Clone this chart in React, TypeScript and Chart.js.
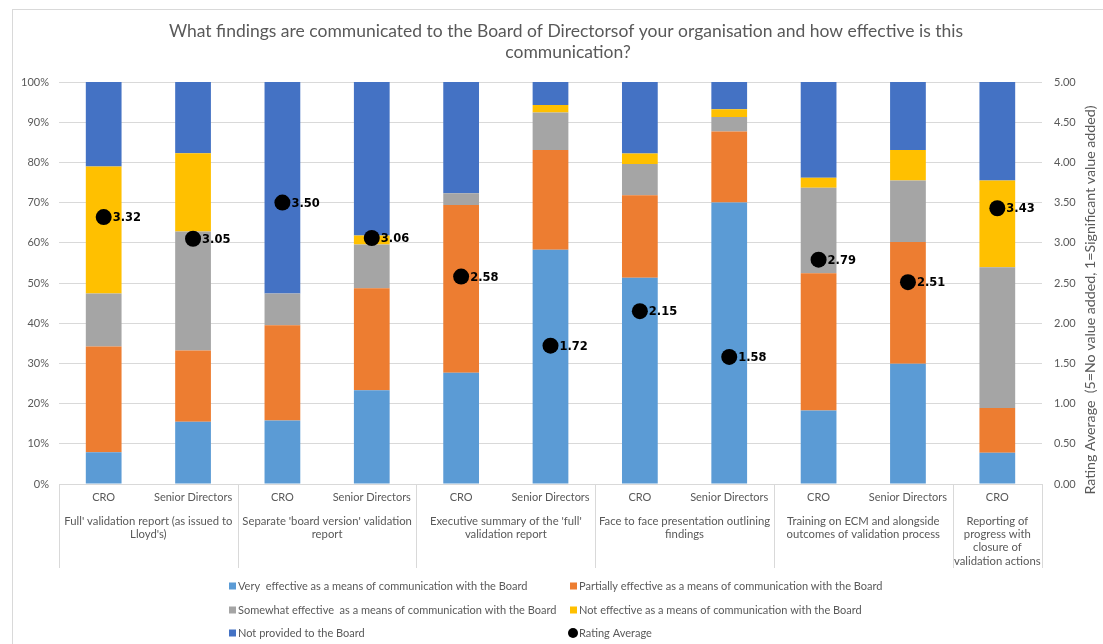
import { useEffect, useRef } from "react";
import { Chart, registerables } from "chart.js";

Chart.register(...registerables);

const titleLines = [
  "What findings are communicated to the Board of Directorsof your organisation and how effective is this",
  "communication?",
];

const categories = [
  "CRO", "Senior Directors",
  "CRO", "Senior Directors",
  "CRO", "Senior Directors",
  "CRO", "Senior Directors",
  "CRO", "Senior Directors",
  "CRO",
];

const groupLabels: string[][] = [
  ["Full' validation report (as issued to", "Lloyd's)"],
  ["Separate 'board version' validation", "report"],
  ["Executive summary of the 'full'", "validation report"],
  ["Face to face presentation outlining", "findings"],
  ["Training on ECM and alongside", "outcomes of validation process"],
  ["Reporting of", "progress with", "closure of", "validation actions"],
];
const groupSizes = [2, 2, 2, 2, 2, 1];

const veryEffective = [7.9, 15.5, 15.8, 23.3, 27.7, 58.3, 51.3, 70.0, 18.3, 29.9, 7.8];
const partiallyEffective = [26.3, 17.7, 23.7, 25.4, 41.7, 24.8, 20.5, 17.7, 34.1, 30.3, 11.1];
const somewhatEffective = [13.2, 29.6, 7.9, 10.9, 2.9, 9.3, 7.8, 3.6, 21.3, 15.3, 35.0];
const notEffective = [31.6, 19.5, 0, 2.2, 0, 1.9, 2.6, 1.9, 2.5, 7.6, 21.6];
const notProvided = [21.0, 17.7, 52.6, 38.2, 27.7, 5.7, 17.8, 6.8, 23.8, 16.9, 24.5];
const ratingAverage = [3.32, 3.05, 3.5, 3.06, 2.58, 1.72, 2.15, 1.58, 2.79, 2.51, 3.43];

const seriesLabels = [
  "Very  effective as a means of communication with the Board",
  "Partially effective as a means of communication with the Board",
  "Somewhat effective  as a means of communication with the Board",
  "Not effective as a means of communication with the Board",
  "Not provided to the Board",
  "Rating Average",
];
const seriesColors = ["#5B9BD5", "#ED7D31", "#A5A5A5", "#FFC000", "#4472C4", "#000000"];

const rightAxisTitle = "Rating Average  (5=No value added, 1=Significant value added)";

const TEXT = "#595959";
const GRID = "#D9D9D9";
const FONT = "Lato, 'Open Sans', sans-serif";

const overlayPlugin = {
  id: "overlay",
  beforeDraw(chart: any) {
    const ctx = chart.ctx;
    ctx.save();
    ctx.strokeStyle = GRID;
    ctx.lineWidth = 1;
    ctx.strokeRect(12.5, 9.5, 1120, 660);
    ctx.restore();
  },
  afterDatasetsDraw(chart: any) {
    const ctx = chart.ctx;
    const idx = chart.data.datasets.length - 1;
    const meta = chart.getDatasetMeta(idx);
    ctx.save();
    ctx.font = "bold 11.5px 'DejaVu Sans', sans-serif";
    ctx.fillStyle = "#000";
    ctx.textAlign = "left";
    ctx.textBaseline = "middle";
    meta.data.forEach((pt: any, i: number) => {
      ctx.fillText(ratingAverage[i].toFixed(2), pt.x + 9, pt.y + 1);
    });
    ctx.restore();
  },
  afterDraw(chart: any) {
    const ctx = chart.ctx;
    const area = chart.chartArea;
    const xs = chart.scales.x;
    ctx.save();
    // title
    ctx.fillStyle = TEXT;
    ctx.font = `17.5px ${FONT}`;
    ctx.textAlign = "center";
    ctx.textBaseline = "middle";
    ctx.fillText(titleLines[0], 566, 31);
    ctx.fillText(titleLines[1], 568, 52);

    // group separators and labels
    ctx.strokeStyle = GRID;
    ctx.lineWidth = 1;
    const bounds: number[] = [area.left];
    let k = 0;
    groupSizes.forEach((n) => {
      k += n;
      if (k < categories.length) {
        const a = xs.getPixelForValue(k - 1);
        const b = xs.getPixelForValue(k);
        bounds.push((a + b) / 2);
      } else {
        bounds.push(area.right);
      }
    });
    bounds.forEach((bx) => {
      const x = Math.round(bx) + 0.5;
      ctx.beginPath();
      ctx.moveTo(x, area.bottom);
      ctx.lineTo(x, 568);
      ctx.stroke();
    });
    ctx.font = `11.3px ${FONT}`;
    ctx.fillStyle = TEXT;
    groupLabels.forEach((lines, g) => {
      const cx = (bounds[g] + bounds[g + 1]) / 2;
      lines.forEach((ln, j) => {
        ctx.fillText(ln, cx, 521 + j * 13.3);
      });
    });

    // legend
    ctx.font = `11px ${FONT}`;
    const cols = [229, 570];
    const rows = [586, 610, 633];
    ctx.textAlign = "left";
    seriesLabels.forEach((lab, i) => {
      const cx = cols[i % 2];
      const cy = rows[Math.floor(i / 2)];
      ctx.fillStyle = seriesColors[i];
      if (i === 5) {
        ctx.beginPath();
        ctx.arc(cx + 3, cy, 5, 0, Math.PI * 2);
        ctx.fill();
      } else {
        ctx.fillRect(cx, cy - 3.5, 7, 7);
      }
      ctx.fillStyle = TEXT;
      ctx.fillText(lab, cx + 9, cy);
    });

    // right axis title
    ctx.save();
    ctx.translate(1090, 300);
    ctx.rotate(-Math.PI / 2);
    ctx.font = `14.2px ${FONT}`;
    ctx.textAlign = "center";
    ctx.fillStyle = TEXT;
    ctx.fillText(rightAxisTitle, 0, 0);
    ctx.restore();
    ctx.restore();
  },
};

export default function App() {
  const ref = useRef<HTMLCanvasElement | null>(null);
  useEffect(() => {
    if (!ref.current) return;
    const barSeries = [veryEffective, partiallyEffective, somewhatEffective, notEffective, notProvided];
    const chart = new Chart(ref.current, {
      type: "bar",
      data: {
        labels: categories,
        datasets: [
          ...barSeries.map((d, i) => ({
            type: "bar" as const,
            label: seriesLabels[i],
            data: d,
            backgroundColor: seriesColors[i],
            borderWidth: 0,
            yAxisID: "y",
            order: 1,
            categoryPercentage: 1,
            barPercentage: 0.4,
          })),
          {
            type: "line" as const,
            label: seriesLabels[5],
            data: ratingAverage,
            yAxisID: "y2",
            showLine: false,
            pointRadius: 8,
            pointBackgroundColor: "#000",
            pointBorderColor: "#000",
            pointBorderWidth: 0,
            order: 0,
          } as any,
        ],
      },
      options: {
        responsive: false,
        animation: false,
        layout: { padding: { top: 82, left: 0, right: 0, bottom: 0 } },
        plugins: {
          legend: { display: false },
          title: { display: false },
          tooltip: { enabled: false },
        },
        scales: {
          x: {
            stacked: true,
            grid: { display: false, drawTicks: false },
            border: { display: true, color: GRID },
            ticks: {
              color: TEXT,
              font: { family: FONT, size: 11 },
              padding: 7,
              maxRotation: 0,
              autoSkip: false,
            },
            afterFit: (s: any) => {
              s.height = 160;
            },
          },
          y: {
            stacked: true,
            position: "left",
            min: 0,
            max: 100,
            ticks: {
              stepSize: 10,
              color: TEXT,
              font: { family: FONT, size: 11 },
              padding: 10,
              callback: (v: any) => `${v}%`,
            },
            grid: { color: GRID, drawTicks: false },
            border: { display: false },
            afterFit: (s: any) => {
              s.width = 59;
            },
          },
          y2: {
            position: "right",
            min: 0,
            max: 5,
            ticks: {
              stepSize: 0.5,
              color: TEXT,
              font: { family: FONT, size: 11 },
              padding: 12,
              callback: (v: any) => Number(v).toFixed(2),
            },
            grid: { display: false, drawTicks: false },
            border: { display: false },
            afterFit: (s: any) => {
              s.width = 61;
            },
          },
        },
      },
      plugins: [overlayPlugin],
    });
    return () => chart.destroy();
  }, []);
  return (
    <div style={{ position: "fixed", left: 0, top: 0, width: 1103, height: 644, background: "#fff" }}>
      <canvas ref={ref} width={1103} height={644} style={{ display: "block" }} />
    </div>
  );
}
